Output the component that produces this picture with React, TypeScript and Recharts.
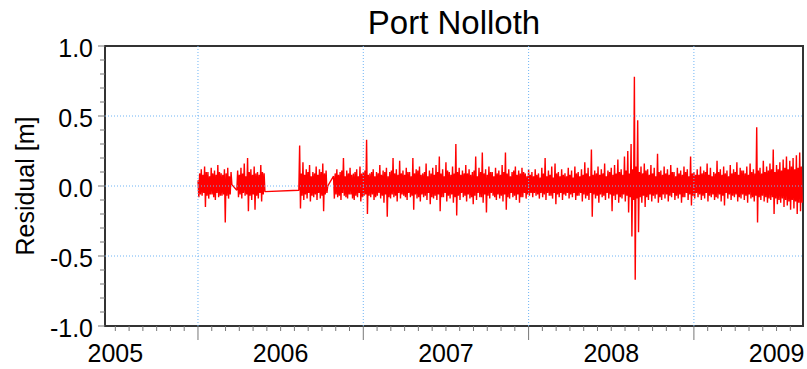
import React from 'react'
import { LineChart, Line, XAxis, YAxis, ReferenceLine, ReferenceArea } from 'recharts'

// hourly residuals, reduced to alternating crest/trough values (cm), one value per 0.005 yr
const STEP = 0.005

const run2006a = [
  4, -8, 9, -6, 12, -7, 8, -5, 14, -15, 10, -7, 10, -9, 7, -6, 13, -6, 9, -8,
  11, -10, 8, -5, 15, -8, 10, -7, 9, -7, 8, -6, 12, -26, 9, -7, 13, -9, 7, -6, 10, 1,
]
const run2006b = [
  -3, 11, -8, 8, -6, 13, -9, 9, -5, 16, -7, 7, -6, 20, -18, 10, -7, 12, -10, 8, -6,
  14, -17, 9, -7, 10, -9, 8, -5, 15, -11, 10, -6, 9, -4,
]
const run2006c = [
  -3, 29, -16, 9, -7, 17, -10, 8, -6, 12, -9, 10, -5, 15, -11, 7, -7, 10, -8, 9, -6,
  14, -10, 8, -5, 12, -9, 10, -7, 16, -18, 9, -6, 11, -5, 0,
]
const run2006to2009 = [
  7, -9, 9, -6, 12, -8, 8, -7, 10, -10, 11, -5, 20, -7, 7, -8, 11, -9, 9, -6, 13, -6, 8, -9, 9, -10, 10, -7, 12, -8, 7, -5, 14, -11, 9, -8, 10, -7, 11, -6,
  33, -20, 8, -7, 9, -8, 10, -6, 12, -10, 7, -8, 10, -7, 9, -5, 15, -9, 8, -7, 11, -12, 10, -6, 13, -22, 7, -8, 10, -9, 11, -6, 20, -8, 9, -7, 12, -11, 8, -5,
  18, -9, 9, -6, 11, -7, 8, -8, 13, -10, 10, -5, 10, -8, 7, -7, 20, -17, 9, -6, 12, -9, 11, -8, 14, -11, 8, -6, 9, -8, 10, -7, 16, -10, 7, -5, 11, -13, 9, -8,
  13, -9, 8, -7, 15, -10, 10, -6, 21, -18, 9, -8, 12, -8, 7, -5, 17, -11, 11, -7, 10, -9, 8, -6, 14, -12, 9, -8, 30, -21, 10, -7, 13, -10, 8, -5, 11, -8, 9, -7,
  15, -11, 9, -6, 12, -9, 8, -8, 10, -13, 11, -7, 21, -10, 7, -5, 13, -8, 10, -8, 24, -12, 9, -6, 12, -19, 8, -7, 14, -9, 10, -5, 10, -7, 7, -8, 13, -10, 9, -6,
  11, -9, 8, -7, 15, -11, 10, -6, 24, -17, 9, -8, 12, -9, 7, -5, 10, -8, 11, -7, 14, -10, 8, -6, 11, -12, 9, -8, 13, -8, 10, -5, 9, -9, 7, -6, 12, -7, 8, -5,
  10, -8, 7, -5, 12, -7, 8, -6, 9, -9, 6, -5, 13, -8, 9, -6, 20, -10, 7, -5, 11, -7, 8, -7, 14, -9, 6, -5, 16, -13, 9, -6, 10, -8, 7, -5, 12, -10, 8, -6,
  9, -7, 7, -5, 13, -9, 8, -6, 11, -8, 6, -5, 14, -10, 9, -7, 10, -7, 7, -5, 12, -11, 8, -6, 17, -9, 9, -7, 13, -10, 7, -5, 26, -22, 8, -6, 11, -9, 9, -7,
  14, -12, 8, -6, 12, -8, 9, -7, 16, -10, 7, -5, 11, -9, 10, -6, 13, -18, 8, -7, 15, -10, 9, -6, 19, -12, 10, -8, 12, -9, 8, -6, 21, -11, 11, -7, 25, -19, 9, -8,
  30, -36, 12, -10, 78, -67, 14, -9, 47, -33, 10, -8, 14, -12, 9, -7, 16, -15, 11, -8, 12, -10, 8, -6, 15, -11, 9, -7, 13, -9, 7, -6, 23, -12, 10, -8, 11, -10, 8, -6,
  14, -9, 9, -6, 12, -11, 8, -7, 15, -8, 10, -5, 10, -10, 7, -7, 13, -9, 9, -6, 11, -12, 8, -8, 14, -8, 10, -5, 12, -10, 7, -6, 21, -14, 9, -7, 10, -9, 8, -5,
  12, -8, 8, -6, 14, -10, 9, -7, 11, -9, 10, -5, 16, -11, 8, -7, 13, -8, 7, -6, 10, -10, 9, -8, 18, -9, 10, -6, 12, -11, 8, -7, 14, -14, 9, -5, 11, -9, 7, -6,
  15, -10, 9, -7, 12, -8, 10, -6, 17, -11, 8, -8, 13, -9, 11, -6, 11, -10, 9, -7, 14, -12, 8, -6, 16, -9, 10, -8, 12, -11, 9, -7, 42, -26, 11, -8, 13, -10, 9, -7,
  18, -11, 10, -8, 14, -12, 11, -9, 16, -10, 12, -8, 26, -20, 10, -9, 15, -13, 12, -10, 17, -12, 11, -9,
  19, -15, 13, -10, 21, -14, 12, -11, 18, -17, 14, -10, 20, -16, 12, -11, 22, -20, 13, -12, 24, -18, 14, -12,
]

const runStarts = [2006.0, 2006.235, 2006.61, 2006.82]
const runs = [run2006a, run2006b, run2006c, run2006to2009]

const X_DOMAIN: [number, number] = [2005.4375, 2009.66]
const yearLabels = [2005, 2006, 2007, 2008, 2009]
const gridYears = [2006, 2007, 2008, 2009]
const yGrid = [-0.5, 0, 0.5]
const yTicks = [
  -1.0, -0.9, -0.8, -0.7, -0.6, -0.5, -0.4, -0.3, -0.2, -0.1, 0,
  0.1, 0.2, 0.3, 0.4, 0.5, 0.6, 0.7, 0.8, 0.9, 1.0,
]

const data: { t: number; v: number }[] = []
runs.forEach((run, r) => {
  run.forEach((cm, i) => {
    data.push({ t: runStarts[r] + i * STEP, v: cm / 100 })
  })
})

// monthly ticks; long ones at year starts, labels at mid-year
const monthTicks: number[] = []
yearLabels.forEach((yr) => {
  for (let m = 0; m < 12; m++) {
    const v = yr + m / 12
    if (v >= X_DOMAIN[0] && v <= X_DOMAIN[1]) monthTicks.push(v)
  }
})

const FONT = '"Liberation Sans", Arial, Helvetica, sans-serif'
const GRID = '#6fb4f5'
const TICK = '#777777'

const XTick = (props: any) => {
  const { x, y, payload } = props
  const v: number = payload.value
  const year = Math.floor(v + 1e-6)
  const month = Math.round((v - year) * 12)
  const len = month === 0 ? 14 : 5
  return (
    <g>
      <line x1={x} x2={x} y1={y} y2={y + len} stroke={TICK} strokeWidth={1} />
      {month === 6 && (
        <text x={x} y={y + 36} textAnchor="middle" fontSize={25} fontFamily={FONT} fill="#000">
          {year}
        </text>
      )}
    </g>
  )
}

const YTick = (props: any) => {
  const { x, y, payload } = props
  const v: number = payload.value
  const major = Math.abs(v * 2 - Math.round(v * 2)) < 1e-6
  return (
    <g>
      <line x1={x - (major ? 7 : 5)} x2={x} y1={y} y2={y} stroke={TICK} strokeWidth={1} />
      {major && (
        <text x={x - 12} y={y + 11} textAnchor="end" fontSize={25} fontFamily={FONT} fill="#000">
          {v.toFixed(1)}
        </text>
      )}
    </g>
  )
}

const App = () => {
  return (
    <div style={{ position: 'absolute', left: 0, top: 0, width: 807, height: 369, background: '#fff' }}>
      <LineChart width={807} height={369} data={data} margin={{ top: 46, right: 4, bottom: 0, left: 0 }}>
        <XAxis
          dataKey="t"
          type="number"
          domain={X_DOMAIN}
          ticks={monthTicks}
          interval={0}
          tick={<XTick />}
          tickLine={false}
          axisLine={false}
          tickSize={0}
          tickMargin={0}
          height={43}
        />
        <YAxis
          type="number"
          domain={[-1, 1]}
          ticks={yTicks}
          interval={0}
          tick={<YTick />}
          tickLine={false}
          axisLine={false}
          tickSize={0}
          tickMargin={0}
          width={105}
        />
        <Line
          dataKey="v"
          type="linear"
          stroke="#ff0000"
          strokeWidth={1.4}
          strokeLinejoin="bevel"
          dot={false}
          isAnimationActive={false}
        />
        {yGrid.map((g) => (
          <ReferenceLine key={`y${g}`} y={g} stroke={GRID} strokeDasharray="1 2" />
        ))}
        {gridYears.map((g) => (
          <ReferenceLine key={`x${g}`} x={g} stroke={GRID} strokeDasharray="1 2" />
        ))}
        <ReferenceArea
          x1={X_DOMAIN[0]}
          x2={X_DOMAIN[1]}
          y1={-1}
          y2={1}
          fill="none"
          stroke="#333333"
          strokeWidth={2}
        />
      </LineChart>
      <svg
        width={807}
        height={369}
        style={{ position: 'absolute', left: 0, top: 0, pointerEvents: 'none' }}
      >
        <text x={454} y={34} textAnchor="middle" fontSize={33} fontFamily={FONT} fill="#000">
          Port Nolloth
        </text>
        <text
          transform="translate(34,186) rotate(-90)"
          textAnchor="middle"
          fontSize={25}
          fontFamily={FONT}
          fill="#000"
        >
          Residual [m]
        </text>
      </svg>
    </div>
  )
}

export default App
